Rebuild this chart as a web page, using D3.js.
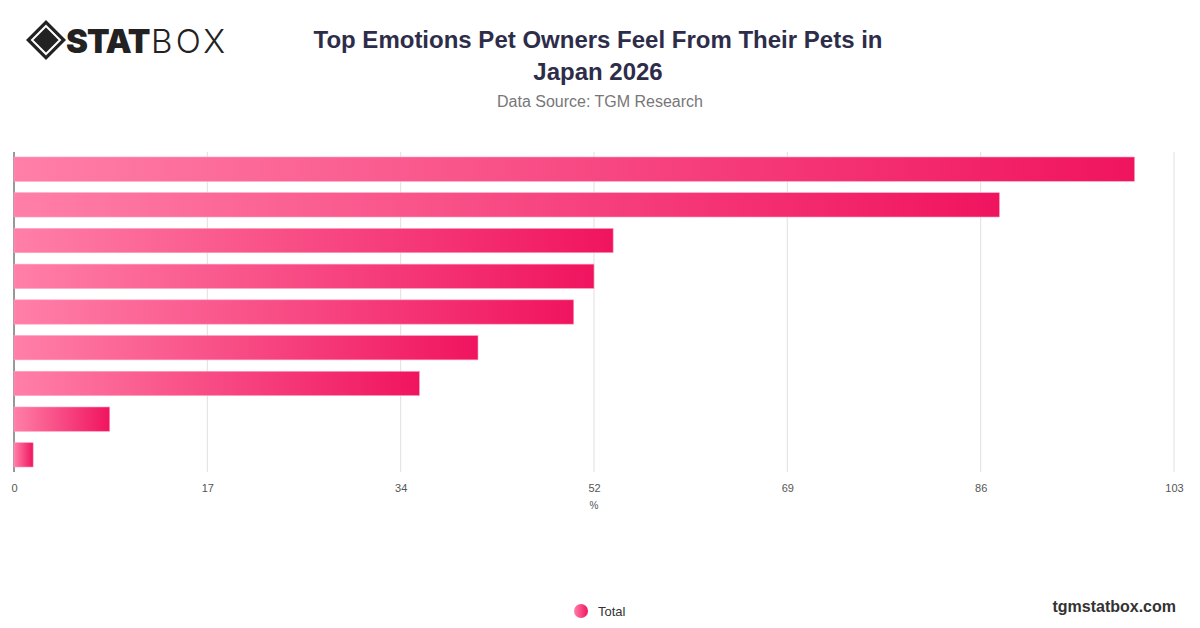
<!DOCTYPE html>
<html><head><meta charset="utf-8">
<script src="https://cdn.jsdelivr.net/npm/d3@7"></script>
<style>body{margin:0;background:#fff;font-family:"Liberation Sans",Arial,sans-serif}</style>
</head><body><svg id="c" width="1200" height="628"></svg>
<script>
const categories = ["c1","c2","c3","c4","c5","c6","c7","c8","c9"];
const values = [99.5, 87.5, 53.2, 51.5, 49.7, 41.2, 36.0, 8.5, 1.7];
const tickValues = [0, 17.1667, 34.3333, 51.5, 68.6667, 85.8333, 103];
const tickLabels = ["0","17","34","52","69","86","103"];
const seriesName = "Total";

const svg = d3.select("#c");
const x = d3.scaleLinear().domain([0,103]).range([14,1174]);
const y = d3.scaleBand().domain(categories).range([152,472]).paddingInner(0.32).paddingOuter(0.14);

const defs = svg.append("defs");
const g = defs.append("linearGradient").attr("id","bg").attr("x1","0").attr("x2","1").attr("y1","0").attr("y2","0");
g.append("stop").attr("offset","0").attr("stop-color","#ff7fa8");
g.append("stop").attr("offset","1").attr("stop-color","#f0145f");

svg.append("g").selectAll("line").data(tickValues.slice(1)).join("line")
  .attr("x1",d=>x(d)).attr("x2",d=>x(d)).attr("y1",152).attr("y2",472)
  .attr("stroke","#e0e0e0").attr("stroke-width",1);
svg.append("line").attr("x1",x(0)).attr("x2",x(0)).attr("y1",152).attr("y2",472).attr("stroke","#333").attr("stroke-width",1);

svg.append("g").selectAll("rect").data(values).join("rect")
  .attr("x",x(0)).attr("y",(d,i)=>y(categories[i]))
  .attr("width",d=>x(d)-x(0)).attr("height",y.bandwidth())
  .attr("fill","url(#bg)").attr("stroke","#ff9fbf").attr("stroke-width",0.6);

const ax = svg.append("g").attr("transform","translate(0,472)")
  .call(d3.axisBottom(x).tickValues(tickValues).tickFormat((d,i)=>tickLabels[i]).tickSize(0).tickPadding(12));
ax.select(".domain").remove();
ax.selectAll("text").attr("font-size",11).attr("fill","#555").attr("font-family","Liberation Sans, Arial, sans-serif");
svg.append("text").attr("x",594).attr("y",509).attr("text-anchor","middle").attr("font-size",10).attr("fill","#555").text("%");

svg.append("text").attr("x",598).attr("y",48).attr("text-anchor","middle").attr("font-size",24).attr("font-weight",700)
  .attr("fill","#2d2d4a").text("Top Emotions Pet Owners Feel From Their Pets in");
svg.append("text").attr("x",598).attr("y",80).attr("text-anchor","middle").attr("font-size",24).attr("font-weight",700)
  .attr("fill","#2d2d4a").text("Japan 2026");
svg.append("text").attr("x",600).attr("y",107).attr("text-anchor","middle").attr("font-size",16).attr("fill","#777")
  .text("Data Source: TGM Research");

const lg = svg.append("g").attr("transform","translate(46,40)");
lg.append("path").attr("d","M0,-15 L20,5 L0,25 L-20,5 Z").attr("transform","translate(0,-5)").attr("fill","#222");
lg.append("path").attr("d","M0,-9 L14,5 L0,19 L-14,5 Z").attr("transform","translate(0,-5)").attr("fill","none").attr("stroke","#fff").attr("stroke-width",2);
lg.append("path").attr("d","M0,-4 L9,5 L0,14 L-9,5 Z").attr("transform","translate(0,-5)").attr("fill","#222");
svg.append("text").attr("x",66).attr("y",53).attr("font-size",33).attr("font-weight",900).attr("fill","#222")
  .attr("font-family","Inter, sans-serif").attr("letter-spacing","-1").text("STAT");
svg.append("text").attr("x",151).attr("y",53).attr("font-size",33).attr("font-weight",300).attr("fill","#222")
  .attr("font-family","Inter, sans-serif").attr("textLength",74).text("BOX");

svg.append("circle").attr("cx",581).attr("cy",611).attr("r",7).attr("fill","url(#bg)");
svg.append("text").attr("x",598).attr("y",616).attr("font-size",13).attr("fill","#333").text(seriesName);
svg.append("text").attr("x",1176).attr("y",612).attr("text-anchor","end").attr("font-size",16).attr("font-weight",700)
  .attr("fill","#333").text("tgmstatbox.com");
</script></body></html>
